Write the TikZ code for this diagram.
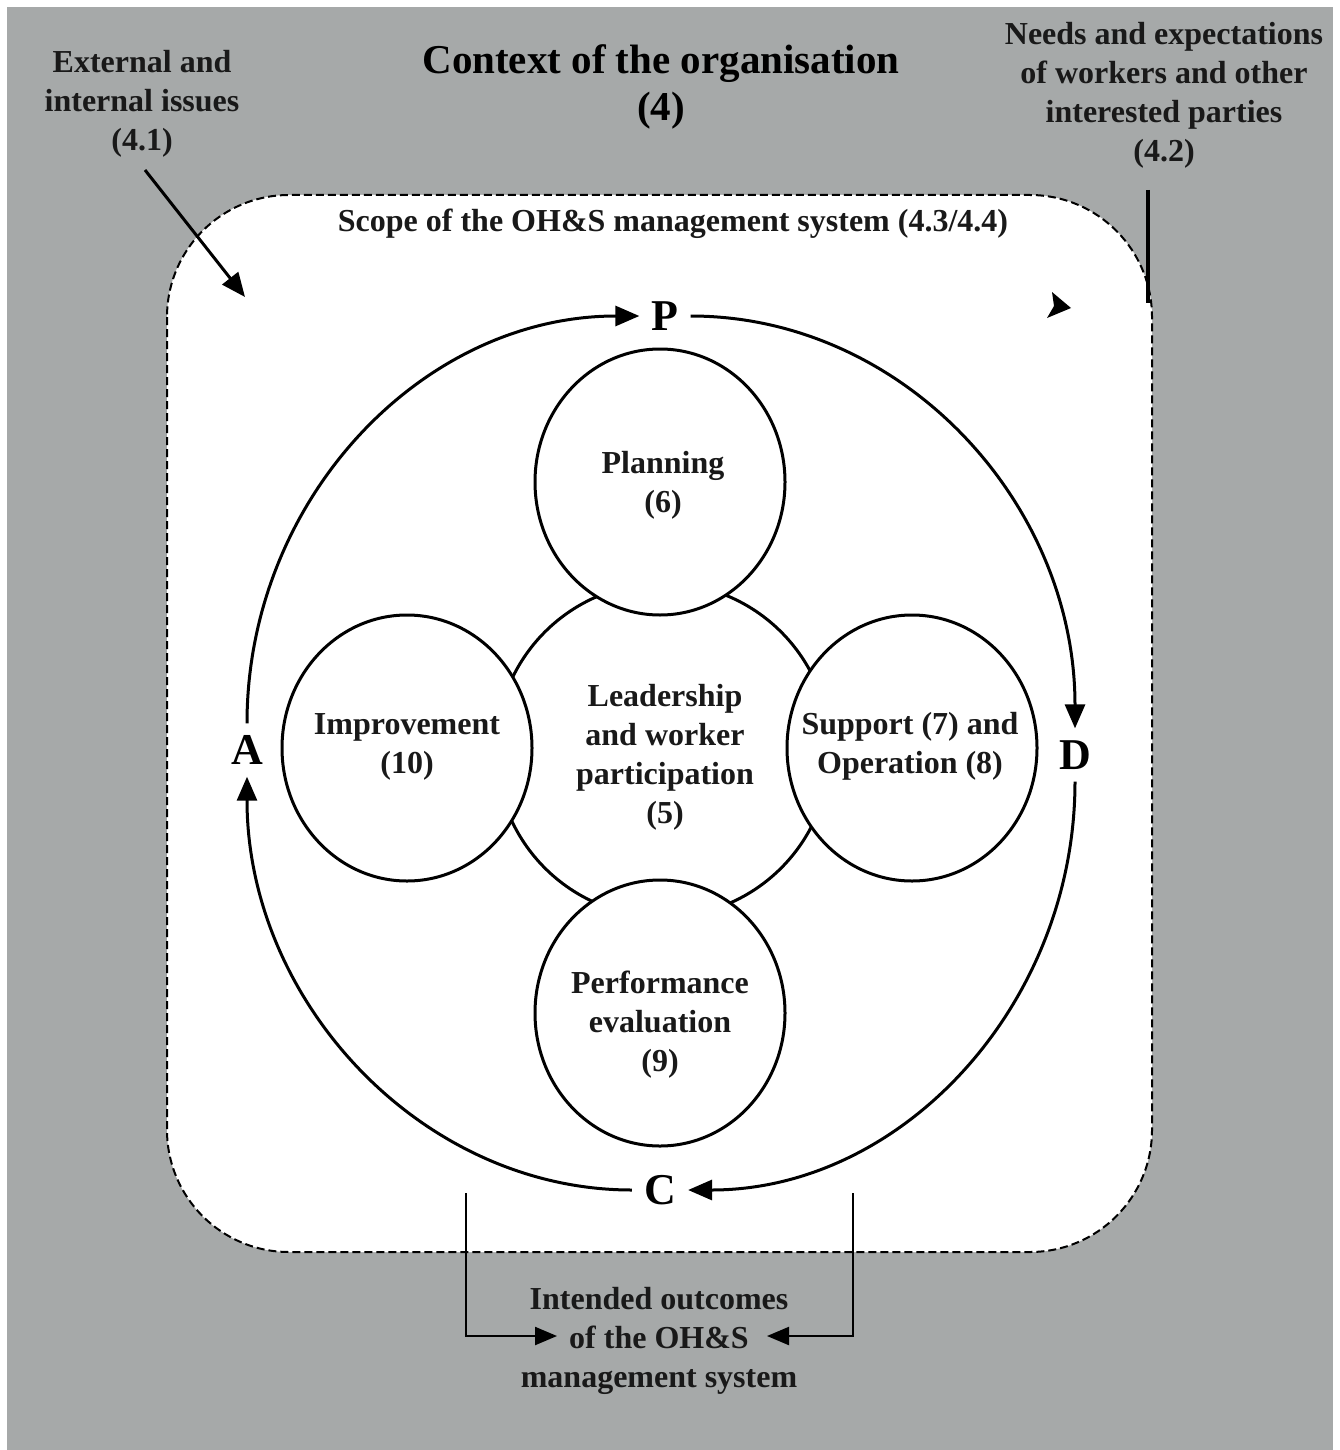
\documentclass[tikz,border=0pt]{standalone}
\usepackage{fontspec}
\setmainfont{Liberation Serif}
\usetikzlibrary{arrows.meta,shapes.geometric}
\definecolor{bggray}{RGB}{166,169,169}
\begin{document}
\begin{tikzpicture}[x=1pt,y=-1pt,
  lbl/.style={align=center,font=\bfseries\fontsize{32}{39}\selectfont,inner sep=0pt,text=black!90},
  pdca/.style={font=\bfseries\fontsize{44}{44}\selectfont,inner sep=12pt},
  clause/.style={draw,line width=3pt,fill=white,ellipse,minimum width=250pt,minimum height=266pt,inner sep=0pt},
  cyc/.style={line width=3pt,-{Triangle[length=24pt,width=20pt]}},
  thin arrow/.style={line width=2.2pt,-{Triangle[length=22pt,width=18pt]}},
  ]
\useasboundingbox (0,0) rectangle (1339,1450);
\fill[white] (0,0) rectangle (1339,1450);
\fill[bggray] (7,7) rectangle (1333,1450);

% scope box
\draw[fill=white,line width=2pt,dash pattern=on 8pt off 4pt,rounded corners=122pt] (167,195) rectangle (1152,1252);

% texts outside
\node[lbl] (ext) at (142,104) {External and\\internal issues\\(4.1)};
\node[align=center,font=\bfseries\fontsize{41}{47}\selectfont,inner sep=0pt] (title) at (661,87) {Context of the organisation\\(4)};
\node[lbl] (needs) at (1164,95) {Needs and expectations\\of workers and other\\interested parties\\(4.2)};
\node[lbl] (scope) at (673,224) {Scope of the OH\&S management system (4.3/4.4)};

% central circle and clause circles
\node[draw,circle,line width=3pt,minimum size=334pt,inner sep=0pt] (lead) at (663,750) {};
\node[clause] (plan) at (660,482) {};
\node[clause] (impr) at (407,748) {};
\node[clause] (supp) at (912,748) {};
\node[clause] (perf) at (660,1013) {};

\node[lbl] (leadtxt) at (lead.center) [xshift=2pt,yshift=-7pt] {Leadership\\and worker\\participation\\(5)};
\node[lbl] (plantxt) at (plan.center) [xshift=3pt,yshift=-3pt] {Planning\\(6)};
\node[lbl] (imprtxt) at (impr.center) [yshift=1pt] {Improvement\\(10)};
\node[lbl] (supptxt) at (supp.center) [xshift=-2pt,yshift=2pt] {Support (7) and\\Operation (8)};
\node[lbl] (perftxt) at (perf.center) [yshift=-12pt] {Performance\\evaluation\\(9)};

% PDCA letters
\node[pdca] (P) at (665,316) {P};
\node[pdca] (D) at (1075,755) {D};
\node[pdca] (C) at (660,1190) {C};
\node[pdca] (A) at (247,750) {A};

\draw[cyc] (P.east) .. controls +(212,0) and +(0,-226) .. (D.north);
\draw[cyc] (D.south) .. controls +(0,222) and +(215,0) .. (C.east);
\draw[cyc] (C.west) .. controls +(-210,0) and +(0,225) .. (A.south);
\draw[cyc] (A.north) .. controls +(0,-223) and +(-218,0) .. (P.west);

% external issues arrow
\coordinate (extStart) at (145,170);
\coordinate (extTip) at (245,297);
\draw[line width=3pt,-{Triangle[length=24pt,width=20pt]}] (extStart) -- (extTip);

% needs line and arrowhead
\coordinate (needsStart) at (1148,190);
\coordinate (needsEnd) at (1148,303);
\draw[line width=4pt] (needsStart) -- (needsEnd);
\fill (1052,292) -- (1071,308) -- (1047,318) -- (1054,306) -- cycle;

% intended outcomes
\node[lbl] (out) at (659,1341) {Intended outcomes\\of the OH\&S\\management system};
\coordinate (lstart) at (466,1193);
\coordinate (rstart) at (853,1193);
\coordinate (ltip) at (557,1336);
\coordinate (rtip) at (767,1336);
\draw[thin arrow] (lstart) |- (ltip);
\draw[thin arrow] (rstart) |- (rtip);
\end{tikzpicture}
\end{document}
